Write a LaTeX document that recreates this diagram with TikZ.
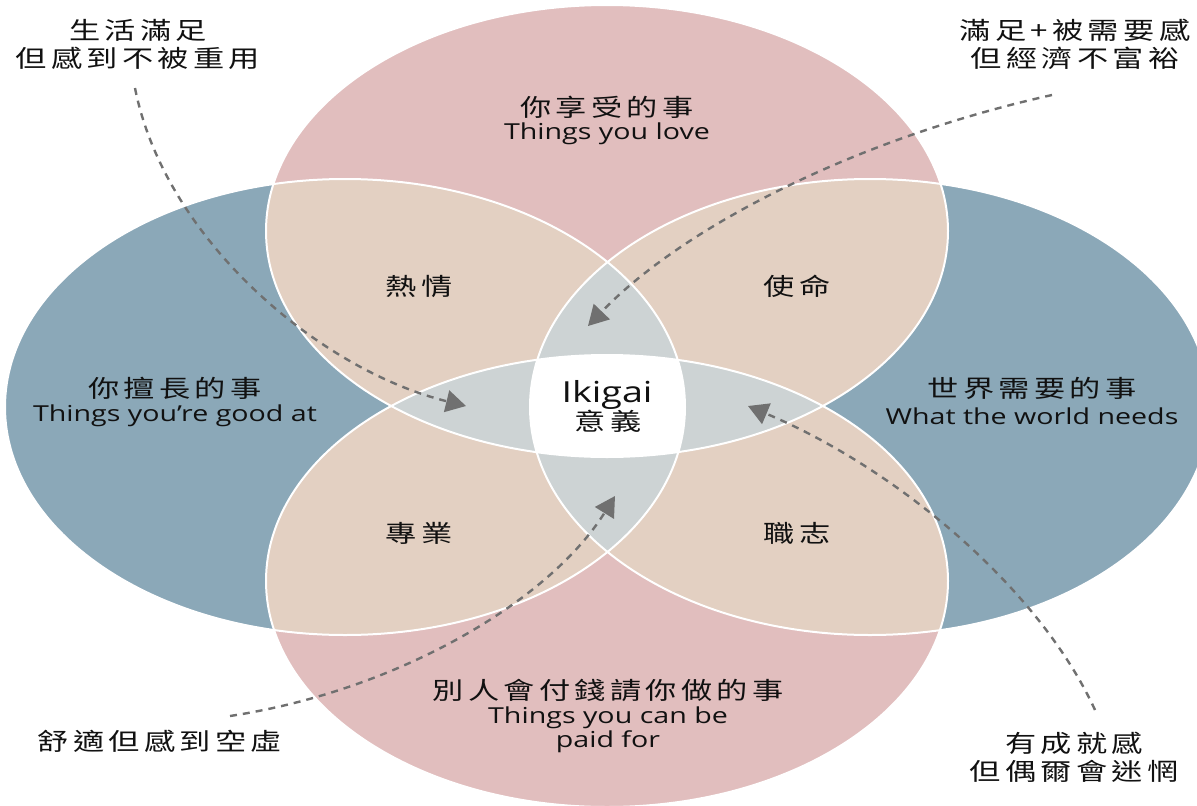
\documentclass[tikz,border=0pt]{standalone}
\usepackage{fontspec}
\usetikzlibrary{arrows.meta}
\newfontfamily\cjk[FakeStretch=1.3,LetterSpace=18]{Noto Sans CJK TC}
\newfontfamily\lat[FakeStretch=1.3]{Open Sans}
\definecolor{pinkc}{RGB}{225,190,190}
\definecolor{bluec}{RGB}{139,168,184}
\definecolor{tanc}{RGB}{227,208,194}
\definecolor{grayc}{RGB}{205,211,212}
\definecolor{arrc}{RGB}{112,112,112}
\definecolor{txtc}{RGB}{17,17,17}
\tikzset{
  cjkl/.style={text=txtc, font=\cjk\fontsize{24}{28}\selectfont, inner sep=0pt, align=center},
  latl/.style={text=txtc, font=\lat\fontsize{22}{24}\selectfont, inner sep=0pt, align=center},
  dasharrow/.style={draw=arrc, line width=2.4pt, dash pattern=on 7pt off 6pt,
     -{Triangle[length=20pt,width=22pt,sep=0pt]}},
  outline/.style={draw=white, line width=2pt}
}
\def\Etop{(607,231) ellipse [x radius=341pt, y radius=226pt]}
\def\Ebot{(607,581) ellipse [x radius=341pt, y radius=226pt]}
\def\Eleft{(345,407) ellipse [x radius=340pt, y radius=228pt]}
\def\Eright{(870,407) ellipse [x radius=340pt, y radius=228pt]}
\begin{document}
\begin{tikzpicture}[x=1pt,y=-1pt]
\useasboundingbox (0,0) rectangle (1197,806);
\clip (0,0) rectangle (1197,806);
\fill[white] (0,0) rectangle (1197,806);
% single
\fill[pinkc] \Etop;
\fill[pinkc] \Ebot;
\fill[bluec] \Eleft;
\fill[bluec] \Eright;
% pairs
\begin{scope}\clip \Etop; \fill[tanc] \Eleft; \fill[tanc] \Eright; \fill[tanc] \Ebot;\end{scope}
\begin{scope}\clip \Ebot; \fill[tanc] \Eleft; \fill[tanc] \Eright;\end{scope}
\begin{scope}\clip \Eleft; \fill[tanc] \Eright;\end{scope}
% triples
\begin{scope}\clip \Etop; \clip \Ebot; \fill[grayc] \Eleft; \fill[grayc] \Eright;\end{scope}
\begin{scope}\clip \Eleft; \clip \Eright; \fill[grayc] \Etop; \fill[grayc] \Ebot;\end{scope}
% quadruple
\begin{scope}\clip \Etop; \clip \Ebot; \clip \Eleft; \fill[white] \Eright;\end{scope}
% outlines
\draw[outline] \Etop;
\draw[outline] \Ebot;
\draw[outline] \Eleft;
\draw[outline] \Eright;

% labels in circles
\node[cjkl] (love) at (607,107) {你享受的事};
\node[latl] (lovee) at (607,134) {Things you love};
\node[cjkl] (good) at (175,388) {你擅長的事};
\node[latl] (goode) at (175,416) {Things you’re good at};
\node[cjkl] (world) at (1032,388) {世界需要的事};
\node[latl] (worlde) at (1032,416) {What the world needs};
\node[cjkl] (paid) at (608,690) {別人會付錢請你做的事};
\node[latl, align=center] (paide) at (608,730) {Things you can be\\paid for};

\node[cjkl] (passion) at (419,286) {熱情};
\node[cjkl] (mission) at (797,286) {使命};
\node[cjkl] (profession) at (419,533) {專業};
\node[cjkl] (vocation) at (797,533) {職志};

\node[latl, font=\lat\fontsize{29}{30}\selectfont] (ikigai) at (607,395) {Ikigai};
\node[cjkl] (yiyi) at (608,421) {意義};

% outer notes
\node[cjkl] (n1) at (138,44) {生活滿足\\但感到不被重用};
\node[cjkl] (n2) at (1075,44) {滿足+被需要感\\但經濟不富裕};
\node[cjkl] (n3) at (160,741) {舒適但感到空虛};
\node[cjkl] (n4) at (1074,757) {有成就感\\但偶爾會迷惘};

% arrows
\coordinate (a1s) at (135,88);   \coordinate (a1e) at (466,406);
\coordinate (a2s) at (1052,95);  \coordinate (a2e) at (588,326);
\coordinate (a3s) at (230,716);  \coordinate (a3e) at (615,496);
\coordinate (a4s) at (1095,710); \coordinate (a4e) at (748,406);
\draw[dasharrow] (a1s) .. controls (165,240) and (320,370) .. (a1e);
\draw[dasharrow] (a2s) .. controls (850,140) and (680,230) .. (a2e);
\draw[dasharrow] (a3s) .. controls (400,690) and (550,600) .. (a3e);
\draw[dasharrow] (a4s) .. controls (1040,590) and (900,470) .. (a4e);
\end{tikzpicture}
\end{document}
